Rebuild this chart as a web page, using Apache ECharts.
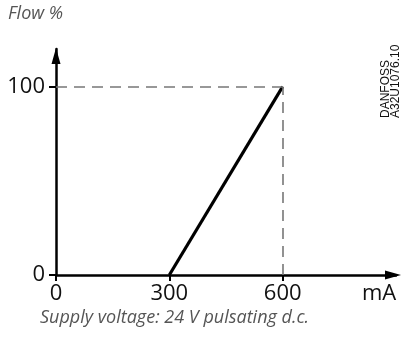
<!DOCTYPE html>
<html>
<head>
<meta charset="utf-8">
<script src="https://cdn.jsdelivr.net/npm/echarts@6/dist/echarts.min.js"></script>
<style>
  html, body { margin: 0; padding: 0; background: #fff; }
  #chart { width: 401px; height: 343px; }
</style>
</head>
<body>
<div id="chart"></div>
<script>
// Control current (mA) against resulting flow (%)
const currentMA = [300, 600];
const flowPct = [0, 100];
const xTicks = [0, 300, 600];
const yTicks = [0, 100];
const refFlow = 100;     // dashed guide level
const refCurrent = 600;  // dashed guide position

const FONT = '"Open Sans", "Noto Sans", sans-serif';

const chart = echarts.init(document.getElementById('chart'), null, { renderer: 'canvas' });

chart.setOption({
  animation: false,
  backgroundColor: '#fff',
  grid: { left: 56, top: 49, width: 340, height: 226, containLabel: false },
  xAxis: {
    type: 'value',
    min: 0, max: 900, interval: 300,
    splitLine: { show: false },
    axisLine: {
      onZero: false,
      lineStyle: { color: '#000', width: 2.5 },
      symbol: ['none', 'triangle'],
      symbolSize: [9, 16],
      symbolOffset: [0, -3]
    },
    axisTick: { show: true, inside: false, length: 6, customValues: xTicks,
      lineStyle: { color: '#000', width: 2 } },
    axisLabel: { customValues: xTicks, margin: 8, color: '#111',
      fontFamily: FONT, fontSize: 22 }
  },
  yAxis: {
    type: 'value',
    min: 0, max: 120, interval: 20,
    splitLine: { show: false },
    axisLine: {
      onZero: false,
      lineStyle: { color: '#000', width: 2.5 },
      symbol: ['none', 'triangle'],
      symbolSize: [9, 16],
      symbolOffset: [0, -7]
    },
    axisTick: { show: true, inside: false, length: 7, customValues: yTicks,
      lineStyle: { color: '#000', width: 2 } },
    axisLabel: { customValues: yTicks, margin: 11, color: '#111',
      fontFamily: FONT, fontSize: 22 }
  },
  series: [{
    type: 'line',
    data: currentMA.map((x, i) => [x, flowPct[i]]),
    symbol: 'none',
    lineStyle: { color: '#000', width: 3.2 },
    markLine: {
      silent: true,
      symbol: 'none',
      label: { show: false },
      lineStyle: { color: '#777', type: [11, 7], width: 1.6 },
      data: [
        [{ coord: [0, refFlow] }, { coord: [refCurrent, refFlow] }],
        [{ coord: [refCurrent, 0] }, { coord: [refCurrent, refFlow] }]
      ]
    }
  }],
  graphic: [
    { type: 'text', left: 8, top: 5,
      style: { text: 'Flow %', fontFamily: FONT, fontStyle: 'italic', fontSize: 18, fill: '#555' } },
    { type: 'text', left: 362, top: 283,
      style: { text: 'mA', fontFamily: FONT, fontSize: 22, fill: '#111' } },
    { type: 'text', left: 40, top: 309,
      style: { text: 'Supply voltage: 24 V pulsating d.c.', fontFamily: FONT, fontStyle: 'italic', fontSize: 18, fill: '#555' } },
    { type: 'text', x: 380, y: 118, rotation: Math.PI / 2,
      style: { text: 'DANFOSS\nA32U1076.10', fontFamily: '"Liberation Sans", Arial, sans-serif',
        fontSize: 12, lineHeight: 10.5, fill: '#111', align: 'left', verticalAlign: 'top' } }
  ]
});
</script>
</body>
</html>
